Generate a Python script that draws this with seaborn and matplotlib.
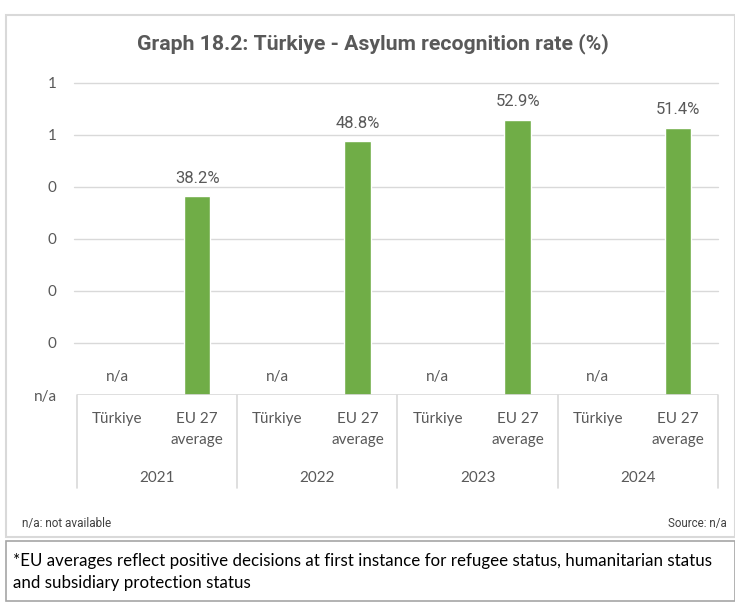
import pandas as pd
import matplotlib.pyplot as plt
import matplotlib.transforms as mtransforms
from matplotlib.patches import Rectangle
from matplotlib.lines import Line2D
import seaborn as sns
import numpy as np

# Dati
years = ['2021', '2022', '2023', '2024']
countries = ['Türkiye', 'EU 27\naverage']
turkiye_rate = [np.nan, np.nan, np.nan, np.nan]  # n/a
eu_rate = [0.382, 0.488, 0.529, 0.514]
ytick_values = [0.0, 0.1, 0.2, 0.3, 0.4, 0.5, 0.6]
ytick_labels = ['n/a', '0', '0', '0', '0', '1', '1']

rows = []
for i, y in enumerate(years):
    rows.append({'key': f'{y}-T', 'year': y, 'country': countries[0], 'rate': turkiye_rate[i]})
    rows.append({'key': f'{y}-E', 'year': y, 'country': countries[1], 'rate': eu_rate[i]})
df = pd.DataFrame(rows)

sns.set_theme(style='white')
plt.rcParams['font.family'] = ['Lato', 'DejaVu Sans']

grey = '#595959'
green = '#70AD47'
line_grey = '#D9D9D9'

fig = plt.figure(figsize=(7.35, 6.02), dpi=100)
W, H = 735, 602

def fx(px):
    return px / W

def fy(py):
    return 1 - py / H

# cornice esterna del grafico e riquadro della nota
fig.patches.append(Rectangle((fx(6), fy(537)), fx(735 - 6), fy(15) - fy(537),
                             transform=fig.transFigure, fill=False, edgecolor=line_grey, lw=1.5))
fig.patches.append(Rectangle((fx(6), fy(601)), fx(735 - 6), fy(541) - fy(601),
                             transform=fig.transFigure, fill=False, edgecolor='#A6A6A6', lw=1.2))

ax = fig.add_axes([fx(77), fy(395), fx(718 - 77), fy(83) - fy(395)])
plot_df = df.fillna(0)
sns.barplot(data=plot_df, x='key', y='rate', color=green, width=0.33, ax=ax, saturation=1)

ax.set_ylim(0, 0.6)
ax.set_xlim(-0.5, len(df) - 0.5)
ax.set_yticks(ytick_values)
ax.set_yticklabels(ytick_labels, fontsize=11, color=grey)
ax.tick_params(axis='y', length=0, pad=14.5)
ax.set_xticks([])
ax.set_xlabel('')
ax.set_ylabel('')
for s in ax.spines.values():
    s.set_visible(False)
for v in ytick_values[1:]:
    ax.axhline(v, color=line_grey, lw=1, zorder=0, xmin=-0.004, clip_on=False)
ax.axhline(0, color=line_grey, lw=1.2, zorder=3)

# etichette dei valori
for i, r in df.iterrows():
    val = r['rate']
    txt = 'n/a' if np.isnan(val) else f'{val * 100:.1f}%'
    fam = ['Lato'] if np.isnan(val) else ['Roboto']
    ax.annotate(txt, (i, 0 if np.isnan(val) else val), xytext=(0, 13), textcoords='offset points',
                ha='center', va='center', fontsize=11 if np.isnan(val) else 12, color=grey, family=fam)

# asse delle categorie su due livelli
trans = mtransforms.blended_transform_factory(ax.transData, fig.transFigure)
for g in range(len(years) + 1):
    xpos = g * 2 - 0.5
    fig.lines.append(Line2D([xpos, xpos], [fy(395), fy(488)], transform=trans, color=line_grey, lw=1.2))
for i, r in df.iterrows():
    ax.text(i, fy(412), r['country'], transform=trans, ha='center', va='top',
            fontsize=11, color=grey, linespacing=1.65)
for g, y in enumerate(years):
    ax.text(g * 2 + 0.5, fy(478), y, transform=trans, ha='center', va='center',
            fontsize=11, color=grey)

fig.text(fx(373), fy(44), 'Graph 18.2: Türkiye - Asylum recognition rate (%)', ha='center', va='center',
         fontsize=15.3, fontweight='bold', color=grey, family=['Roboto'])
fig.text(fx(22), fy(524), 'n/a: not available', ha='left', va='center', fontsize=8.5, color='#404040',
         family=['Roboto'])
fig.text(fx(727), fy(524), 'Source: n/a', ha='right', va='center', fontsize=8.3, color='#404040',
         family=['Roboto'])
fig.text(fx(13), fy(561), '*EU averages reflect positive decisions at first instance for refugee status, humanitarian status',
         ha='left', va='center', fontsize=12.2, color='black')
fig.text(fx(13), fy(583), 'and subsidiary protection status', ha='left', va='center', fontsize=12.2, color='black')

plt.savefig('out.png', dpi=100)
